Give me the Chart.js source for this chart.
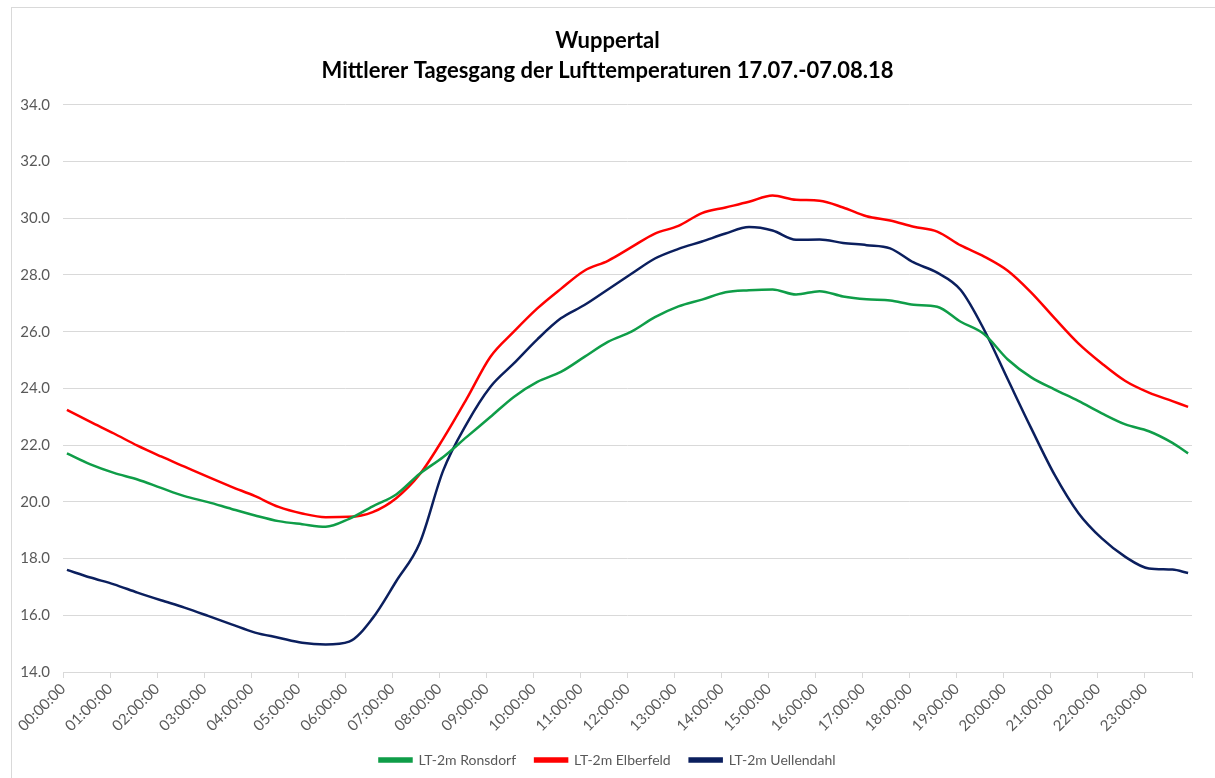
<!DOCTYPE html>
<html>
<head>
<meta charset="utf-8">
<script src="https://cdn.jsdelivr.net/npm/chart.js@4"></script>
<style>
  html, body { margin: 0; padding: 0; background: #fff; }
  #wrap { position: relative; width: 1215px; height: 778px; overflow: hidden; }
  #frame { position: absolute; left: 11px; top: 7px; width: 1300px; height: 900px;
           border-top: 1px solid #d9d9d9; border-left: 1px solid #d9d9d9; }
  canvas { position: absolute; left: 0; top: 0; }
</style>
</head>
<body>
<div id="wrap">
  <div id="frame"></div>
  <canvas id="c" width="1215" height="778"></canvas>
</div>
<script>
// Sample times (minutes after midnight)
const times = [0,30,60,90,120,150,180,210,240,270,300,330,360,390,420,450,480,510,540,570,600,630,660,690,720,750,780,810,840,870,900,930,960,990,1020,1050,1080,1110,1140,1170,1200,1230,1260,1290,1320,1350,1380,1410,1430];

const ronsdorf = [21.71,21.32,21.02,20.79,20.49,20.20,19.99,19.75,19.52,19.32,19.21,19.12,19.40,19.84,20.26,20.99,21.58,22.29,22.99,23.70,24.23,24.58,25.11,25.64,26.00,26.51,26.89,27.13,27.39,27.46,27.49,27.31,27.43,27.24,27.14,27.10,26.95,26.88,26.35,25.91,25.02,24.39,23.96,23.56,23.12,22.73,22.49,22.08,21.71];

const elberfeld = [23.24,22.82,22.41,21.98,21.60,21.24,20.88,20.53,20.20,19.82,19.59,19.46,19.47,19.64,20.13,20.97,22.23,23.64,25.11,26.00,26.82,27.51,28.15,28.50,28.98,29.46,29.73,30.18,30.38,30.58,30.80,30.65,30.62,30.38,30.07,29.92,29.70,29.53,29.04,28.65,28.15,27.38,26.47,25.59,24.88,24.26,23.85,23.55,23.35];

const uellendahl = [17.60,17.33,17.09,16.80,16.53,16.27,15.98,15.68,15.39,15.21,15.03,14.97,15.07,15.90,17.20,18.55,21.11,22.76,24.05,24.88,25.73,26.47,26.94,27.49,28.04,28.58,28.92,29.18,29.46,29.69,29.57,29.24,29.25,29.13,29.05,28.94,28.44,28.08,27.47,26.06,24.32,22.59,20.94,19.61,18.71,18.06,17.65,17.61,17.49];

const hourLabels = ['00:00:00','01:00:00','02:00:00','03:00:00','04:00:00','05:00:00','06:00:00','07:00:00','08:00:00','09:00:00','10:00:00','11:00:00','12:00:00','13:00:00','14:00:00','15:00:00','16:00:00','17:00:00','18:00:00','19:00:00','20:00:00','21:00:00','22:00:00','23:00:00'];

const seriesNames = ['LT-2m Ronsdorf','LT-2m Elberfeld','LT-2m Uellendahl'];
const seriesColors = ['#0f9d48','#ff0000','#0b1f5e'];
const seriesData = [ronsdorf, elberfeld, uellendahl];

const SAMPLE = 10; // minutes per category (10-min averages)
const half = SAMPLE / 2;

const datasets = seriesData.map((arr, k) => ({
  label: seriesNames[k],
  data: arr.map((v, i) => ({ x: times[i], y: v })),
  borderColor: seriesColors[k],
  backgroundColor: seriesColors[k],
  borderWidth: 2.5,
  pointRadius: 0,
  cubicInterpolationMode: 'monotone',
  fill: false
}));

const FONT = 'Lato, "Open Sans", sans-serif';

new Chart(document.getElementById('c'), {
  type: 'line',
  data: { datasets },
  options: {
    responsive: false,
    animation: false,
    layout: { padding: { left: 0, right: 0, top: 0, bottom: 1 } },
    plugins: {
      title: {
        display: true,
        text: 'Wuppertal',
        color: '#000',
        font: { family: FONT, size: 22, weight: 'bold' },
        padding: { top: 28, bottom: 3 }
      },
      subtitle: {
        display: true,
        text: 'Mittlerer Tagesgang der Lufttemperaturen 17.07.-07.08.18',
        color: '#000',
        font: { family: FONT, size: 22, weight: 'bold' },
        padding: { top: 0, bottom: 21 }
      },
      legend: {
        position: 'bottom',
        labels: {
          color: '#595959',
          font: { family: FONT, size: 14 },
          boxWidth: 32,
          boxHeight: 3,
          padding: 19
        }
      },
      tooltip: { enabled: false }
    },
    scales: {
      x: {
        type: 'linear',
        min: -half,
        max: 24 * 60 - half,
        afterBuildTicks: (scale) => {
          const t = [];
          for (let h = 0; h <= 24; h++) t.push({ value: h * 60 - half });
          scale.ticks = t;
        },
        afterFit: (scale) => { scale.height = 62; },
        ticks: {
          autoSkip: false,
          minRotation: 45,
          maxRotation: 45,
          color: '#595959',
          font: { family: FONT, size: 15 },
          padding: 2,
          callback: (value) => {
            const h = Math.round((value + half) / 60);
            return h < hourLabels.length ? hourLabels[h] : '';
          }
        },
        grid: {
          drawOnChartArea: false,
          drawTicks: true,
          tickLength: 6,
          color: '#d9d9d9'
        },
        border: { display: true, color: '#d9d9d9', width: 1 }
      },
      y: {
        min: 14,
        max: 34,
        afterFit: (scale) => { scale.width = 63; },
        ticks: {
          stepSize: 2,
          color: '#595959',
          font: { family: FONT, size: 15 },
          padding: 13,
          callback: (v) => Number(v).toFixed(1)
        },
        grid: { color: '#d9d9d9', drawTicks: false, lineWidth: 1 },
        border: { display: false }
      },
      yRight: {
        position: 'right',
        display: true,
        min: 14,
        max: 34,
        afterFit: (scale) => { scale.width = 23; },
        ticks: { display: false },
        grid: { display: false, drawTicks: false },
        border: { display: false }
      }
    }
  }
});
</script>
</body>
</html>
